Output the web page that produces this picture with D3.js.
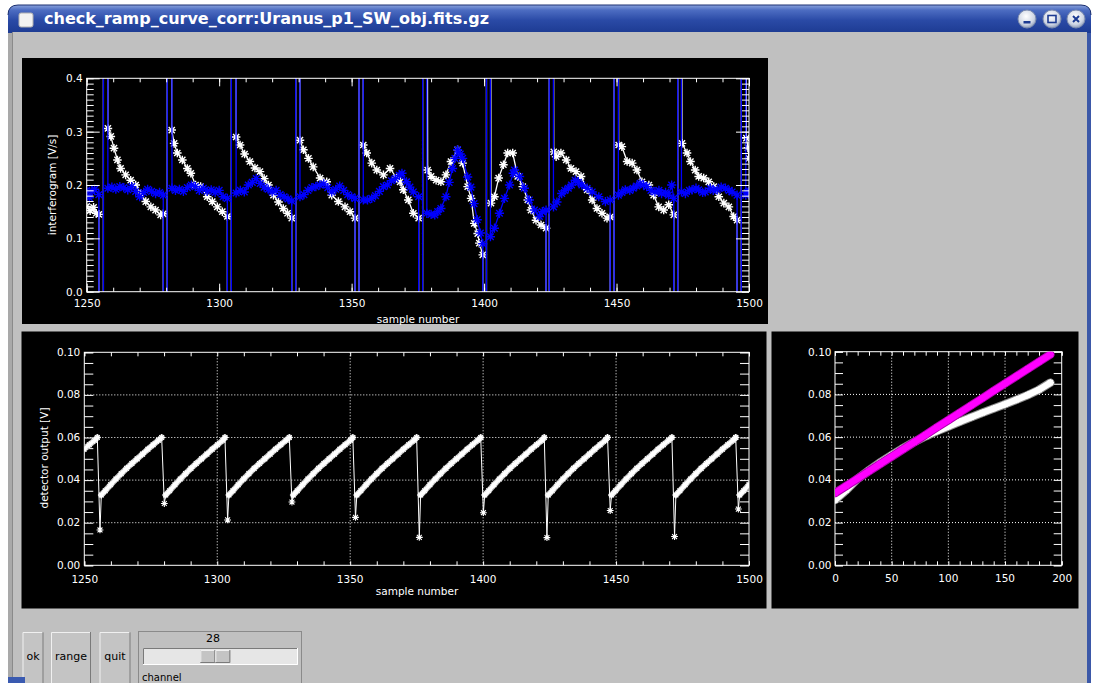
<!DOCTYPE html>
<html>
<head>
<meta charset="utf-8">
<script src="https://cdn.jsdelivr.net/npm/d3@7"></script>
<style>
  html, body { margin: 0; padding: 0; background: #fff; overflow: hidden; }
  svg { display: block; }
  text { font-family: "DejaVu Sans", sans-serif; }
</style>
</head>
<body>
<script>
// ---------------- datos ----------------
const titulo = "check_ramp_curve_corr:Uranus_p1_SW_obj.fits.gz";
const canal = 28;
const botones = ["ok", "range", "quit"];

// lecturas fuera de escala (saltos del reset)
const OFF_LO = -2, OFF_HI = 2;

// posiciones de los tres saltos en cada reset (sample number)
const resets = [
  [1254.6, 1256.3, 1257.8], [1278.9, 1280.4, 1281.9], [1303.1, 1304.6, 1306.2],
  [1327.4, 1328.9, 1330.3], [1351.3, 1352.8, 1354.2], [1375.3, 1376.8, 1378.1],
  [1399.5, 1400.9, 1402.2], [1423.4, 1424.6, 1425.9], [1447.6, 1449.1, 1450.5],
  [1471.6, 1473.1, 1474.3], [1495.5, 1497.1, 1498.6]
];

// interferograma sin corregir (blanco), un tramo entre resets
const blancoSeg = [
  [[1250,0.160],[1251.3,0.152],[1252.6,0.158],[1253.6,0.147],[1254.6,0.145]],
  [[1258.0,0.306],[1259.1,0.291],[1260.3,0.269],[1261.6,0.247],[1262.8,0.231],[1264.7,0.219],[1266.6,0.209],[1268.5,0.200],[1270.4,0.184],[1272.3,0.169],[1274.2,0.159],[1276.0,0.153],[1277.9,0.144],[1278.9,0.146]],
  [[1282.1,0.303],[1283.0,0.278],[1284.2,0.260],[1286.1,0.247],[1288.0,0.231],[1289.3,0.222],[1291.1,0.200],[1293.0,0.197],[1295.5,0.178],[1297.4,0.169],[1299.3,0.159],[1301.2,0.150],[1303.1,0.141]],
  [[1306.4,0.290],[1307.9,0.275],[1309.6,0.258],[1311.6,0.244],[1313.5,0.232],[1315.4,0.225],[1317.0,0.212],[1318.6,0.200],[1320.5,0.181],[1322.4,0.168],[1324.2,0.156],[1325.8,0.147],[1327.4,0.138]],
  [[1330.5,0.284],[1331.8,0.266],[1333.7,0.250],[1335.5,0.234],[1338.1,0.213],[1340.6,0.206],[1342.5,0.181],[1345.0,0.169],[1347.5,0.159],[1349.4,0.150],[1351.3,0.138]],
  [[1354.4,0.275],[1355.7,0.260],[1357.6,0.241],[1359.5,0.228],[1362.0,0.219],[1364.5,0.231],[1367.0,0.213],[1368.3,0.206],[1369.5,0.191],[1371.4,0.172],[1373.3,0.147],[1375.3,0.138]],
  [[1378.7,0.228],[1380.0,0.216],[1381.9,0.209],[1383.7,0.206],[1385.6,0.219],[1387.5,0.244],[1390.0,0.266],[1391.9,0.241],[1393.8,0.197],[1395.1,0.175],[1396.3,0.128],[1397.6,0.109],[1398.2,0.091],[1399.5,0.069]],
  [[1402.6,0.166],[1403.9,0.178],[1405.5,0.213],[1407.3,0.238],[1408.9,0.260],[1410.8,0.260],[1412.7,0.216],[1414.6,0.197],[1416.5,0.172],[1417.7,0.153],[1419.6,0.134],[1421.5,0.125],[1423.4,0.119]],
  [[1426.3,0.262],[1427.2,0.253],[1429.0,0.260],[1431.0,0.247],[1432.8,0.231],[1434.7,0.225],[1436.6,0.216],[1438.9,0.191],[1440.8,0.172],[1442.6,0.156],[1444.5,0.147],[1446.4,0.138],[1447.6,0.140]],
  [[1450.8,0.275],[1452.0,0.272],[1454.0,0.244],[1455.9,0.241],[1457.7,0.228],[1459.6,0.206],[1462.2,0.200],[1464.0,0.181],[1465.9,0.159],[1467.8,0.153],[1469.7,0.163],[1471.6,0.144]],
  [[1474.7,0.278],[1476.6,0.260],[1477.9,0.244],[1479.7,0.228],[1481.0,0.216],[1482.9,0.213],[1484.8,0.206],[1486.7,0.197],[1488.6,0.178],[1490.5,0.166],[1492.4,0.159],[1494.2,0.141],[1495.5,0.134]],
  [[1499.0,0.288],[1499.6,0.270],[1500.0,0.250]]
];

// interferograma corregido (azul)
const azulSeg = [
  [[1250,0.190],[1251,0.176],[1252,0.188],[1253,0.192],[1254.6,0.182]],
  [[1258.0,0.194],[1259.5,0.196],[1261,0.192],[1262.5,0.197],[1264,0.195],[1265.5,0.191],[1267,0.197],[1268.5,0.188],[1270,0.178],[1271.5,0.186],[1273,0.192],[1274.5,0.188],[1276,0.184],[1277.5,0.186],[1278.9,0.181]],
  [[1282.2,0.194],[1283.5,0.190],[1285,0.192],[1286.5,0.188],[1288,0.195],[1289.5,0.200],[1291,0.197],[1292.5,0.190],[1294,0.194],[1295.5,0.188],[1297,0.191],[1298.5,0.186],[1300,0.190],[1301.5,0.178],[1303.1,0.175]],
  [[1306.4,0.185],[1308,0.190],[1309.5,0.187],[1311,0.200],[1312.5,0.205],[1314,0.212],[1315.5,0.203],[1317,0.196],[1318.5,0.192],[1320,0.187],[1321.5,0.190],[1323,0.182],[1324.5,0.178],[1326,0.174],[1327.4,0.170]],
  [[1330.5,0.178],[1332,0.182],[1333.5,0.190],[1335,0.195],[1336.5,0.197],[1338,0.200],[1339.5,0.202],[1341,0.195],[1342.5,0.187],[1344,0.192],[1345.5,0.198],[1347,0.190],[1348.5,0.182],[1350,0.178],[1351.3,0.175]],
  [[1354.4,0.172],[1356,0.172],[1357.6,0.175],[1359,0.180],[1360.5,0.188],[1362,0.197],[1363.5,0.200],[1365,0.208],[1366.5,0.212],[1368,0.218],[1369,0.222],[1370.7,0.206],[1372,0.196],[1373.3,0.187],[1375.3,0.178]],
  [[1378.4,0.147],[1380,0.145],[1381.4,0.144],[1382.5,0.150],[1383.7,0.156],[1385.6,0.178],[1386.8,0.205],[1388.1,0.231],[1389,0.250],[1390,0.266],[1391,0.258],[1391.9,0.250],[1393.8,0.215],[1395,0.196],[1396.2,0.165],[1397.4,0.135],[1398.6,0.110],[1399.5,0.090]],
  [[1402.4,0.103],[1403.9,0.119],[1405.8,0.147],[1407.7,0.175],[1409.6,0.200],[1411,0.222],[1411.5,0.228],[1413.4,0.216],[1415.2,0.194],[1417.1,0.172],[1419,0.153],[1420.9,0.141],[1422,0.150],[1423.4,0.153]],
  [[1426.2,0.159],[1427.5,0.168],[1429.3,0.184],[1430.5,0.190],[1431.8,0.194],[1433,0.200],[1434.4,0.209],[1435.6,0.205],[1436.9,0.200],[1438.9,0.194],[1440.8,0.187],[1443.3,0.178],[1445.8,0.169],[1447.6,0.172]],
  [[1450.7,0.181],[1452,0.186],[1453.3,0.191],[1455,0.190],[1456.3,0.194],[1457.6,0.198],[1458.9,0.203],[1460.2,0.200],[1461.4,0.197],[1463,0.190],[1464.5,0.187],[1466,0.190],[1467,0.184],[1468.5,0.186],[1469.6,0.181],[1470.8,0.200],[1471.6,0.175]],
  [[1474.5,0.187],[1476,0.184],[1477.5,0.190],[1478.5,0.191],[1480,0.194],[1481,0.191],[1482.5,0.186],[1483.5,0.187],[1485.4,0.194],[1486.5,0.190],[1488,0.191],[1489.5,0.196],[1491.1,0.194],[1492.5,0.190],[1493.6,0.187],[1495.5,0.181]],
  [[1498.8,0.181],[1499.3,0.186],[1500,0.188]]
];

// salida del detector: rampas (V)
const rampaPrevia = 1230.9;              // caida anterior, fuera del grafico
const caidas = [1254.9, 1279.1, 1302.9, 1327.1, 1351.0, 1375.0, 1399.1, 1423.0, 1446.8, 1471.0, 1495.0];
const minimos = [0.0166, 0.0290, 0.0213, 0.0297, 0.0225, 0.0131, 0.0247, 0.0130, 0.0257, 0.0135, 0.0264];
const tope = 0.060;
const rampaT = [1.5, 3, 5, 7, 9, 11, 13, 15, 17, 19, 21, 23];
const rampaV = [0.0330, 0.0350, 0.0378, 0.0405, 0.0430, 0.0455, 0.0478, 0.0500, 0.0522, 0.0545, 0.0566, 0.0587];

// rampa de un canal: lectura vs indice
const indice = [0, 10, 20, 30, 40, 50, 60, 70, 80, 90, 100, 110, 120, 130, 140, 150, 160, 170, 180, 190];
const rampaCruda = [0.0305, 0.0352, 0.0405, 0.0445, 0.0482, 0.0516, 0.0548, 0.0578, 0.0604, 0.0628, 0.0650, 0.0672, 0.0693, 0.0714, 0.0734, 0.0754, 0.0775, 0.0797, 0.0822, 0.0855];
const rampaCorr = [0.0338, 0.0372, 0.0406, 0.0441, 0.0475, 0.0509, 0.0543, 0.0577, 0.0611, 0.0646, 0.0680, 0.0714, 0.0748, 0.0782, 0.0817, 0.0851, 0.0885, 0.0919, 0.0953, 0.0987];

// ---------------- lienzo ----------------
const W = 1099, H = 683;
const svg = d3.select("body").append("svg").attr("width", W).attr("height", H);
const defs = svg.append("defs");

// marco de la ventana
const gt = defs.append("linearGradient").attr("id", "gTit").attr("x1", 0).attr("y1", 0).attr("x2", 0).attr("y2", 1);
gt.append("stop").attr("offset", "0%").attr("stop-color", "#8aa2dc");
gt.append("stop").attr("offset", "18%").attr("stop-color", "#4d6dc2");
gt.append("stop").attr("offset", "55%").attr("stop-color", "#2a4aa6");
gt.append("stop").attr("offset", "100%").attr("stop-color", "#1d3b92");

const gb = defs.append("radialGradient").attr("id", "gBtn").attr("cx", "45%").attr("cy", "35%").attr("r", "65%");
gb.append("stop").attr("offset", "0%").attr("stop-color", "#ffffff");
gb.append("stop").attr("offset", "70%").attr("stop-color", "#cfd6e4");
gb.append("stop").attr("offset", "100%").attr("stop-color", "#8e9cb9");

svg.append("path")
  .attr("d", "M8,15 Q8,5 18,5 H1081 Q1091,5 1091,15 V683 H8 Z")
  .attr("fill", "#a9a9a9");
svg.append("path")
  .attr("d", "M8,15 Q8,5 18,5 H1081 Q1091,5 1091,15 V33 H8 Z")
  .attr("fill", "url(#gTit)");
svg.append("path")
  .attr("d", "M8,15 Q8,5 18,5 H1081 Q1091,5 1091,15")
  .attr("fill", "none").attr("stroke", "#1a2f70").attr("stroke-width", 1);
svg.append("rect").attr("x", 1087).attr("y", 33).attr("width", 4).attr("height", 650).attr("fill", "#3b58a8");
svg.append("rect").attr("x", 12).attr("y", 32).attr("width", 1075).attr("height", 651).attr("fill", "#c0c0c0");
svg.append("line").attr("x1", 12.5).attr("x2", 12.5).attr("y1", 32).attr("y2", 683).attr("stroke", "#8a8a8a");

// icono y titulo
svg.append("rect").attr("x", 19).attr("y", 13).attr("width", 14).attr("height", 14).attr("rx", 2)
  .attr("fill", "#f2f2f2").attr("stroke", "#b0b0b0");
svg.append("text").attr("x", 44).attr("y", 24).attr("fill", "#fff")
  .attr("font-size", 16).attr("font-weight", "bold").text(titulo);

// botones de la barra
[1027, 1052, 1076].forEach((cx, i) => {
  const g = svg.append("g").attr("transform", `translate(${cx},19)`);
  g.append("circle").attr("r", 9).attr("fill", "url(#gBtn)").attr("stroke", "#7d8cae");
  if (i === 0) g.append("rect").attr("x", -3.5).attr("y", 2).attr("width", 7).attr("height", 2.5).attr("fill", "#1d3b92");
  if (i === 1) g.append("rect").attr("x", -4).attr("y", -3.5).attr("width", 8).attr("height", 7)
    .attr("fill", "none").attr("stroke", "#1d3b92").attr("stroke-width", 1.6);
  if (i === 2) g.append("path").attr("d", "M-3,-3L3,3M-3,3L3,-3").attr("stroke", "#1d3b92").attr("stroke-width", 2);
});

// ---------------- utilidades ----------------
function estrella(r) {
  const d = r * 0.72;
  return `M${-r},0H${r}M0,${-r}V${r}M${-d},${-d}L${d},${d}M${-d},${d}L${d},${-d}`;
}

function rango(a, b, paso) {
  const out = [];
  for (let v = a; v <= b + paso / 1000; v += paso) out.push(+v.toFixed(6));
  return out;
}

let nClip = 0;
function panel(px, py, pw, ph, area) {
  svg.append("rect").attr("x", px).attr("y", py).attr("width", pw).attr("height", ph).attr("fill", "#000");
  const id = "clip" + (nClip++);
  defs.append("clipPath").attr("id", id).append("rect")
    .attr("x", area.x0).attr("y", area.y0).attr("width", area.x1 - area.x0).attr("height", area.y1 - area.y0);
  return id;
}

// ejes estilo IDL: marcas hacia dentro, en los cuatro lados
function ejes(x, y, o) {
  const g = svg.append("g").attr("class", "ejes");
  const [x0, x1] = x.range();
  const [y1, y0] = y.range();

  // rejilla punteada
  (o.gridX || []).forEach(v => {
    g.append("line").attr("x1", x(v)).attr("x2", x(v)).attr("y1", y0).attr("y2", y1)
      .attr("stroke", "#fff").attr("stroke-dasharray", "1,2");
  });
  (o.gridY || []).forEach(v => {
    g.append("line").attr("x1", x0).attr("x2", x1).attr("y1", y(v)).attr("y2", y(v))
      .attr("stroke", "#fff").attr("stroke-dasharray", "1,2");
  });

  const lados = [
    [d3.axisBottom, `translate(0,${y1})`, x, o.xMaj, o.lxMaj, o.xFmt, o.padX],
    [d3.axisTop, `translate(0,${y0})`, x, o.xMaj, o.lxMaj, null, 0],
    [d3.axisLeft, `translate(${x0},0)`, y, o.yMaj, o.lyMaj, o.yFmt, o.padY],
    [d3.axisRight, `translate(${x1},0)`, y, o.yMaj, o.lyMaj, null, 0]
  ];
  lados.forEach(([fn, tr, s, maj, len, fmt, pad]) => {
    g.append("g").attr("transform", tr)
      .call(fn(s).tickValues(maj).tickSize(-len).tickPadding(pad || 0).tickFormat(fmt ? fmt : ""));
  });
  const menores = [
    [d3.axisBottom, `translate(0,${y1})`, x, o.xMin, o.lxMin],
    [d3.axisTop, `translate(0,${y0})`, x, o.xMin, o.lxMin],
    [d3.axisLeft, `translate(${x0},0)`, y, o.yMin, o.lyMin],
    [d3.axisRight, `translate(${x1},0)`, y, o.yMin, o.lyMin]
  ];
  menores.forEach(([fn, tr, s, mins, len]) => {
    g.append("g").attr("transform", tr).call(fn(s).tickValues(mins).tickSize(-len).tickFormat(""));
  });
  g.selectAll(".domain").remove();
  g.selectAll(".tick line").attr("stroke", "#fff");
  g.selectAll(".tick text").attr("fill", "#fff").attr("font-size", 10.5)
    .attr("font-family", "'DejaVu Sans', sans-serif");
  g.append("rect").attr("x", x0).attr("y", y0).attr("width", x1 - x0).attr("height", y1 - y0)
    .attr("fill", "none").attr("stroke", "#fff");
  return g;
}

function etiqueta(tx, ty, txt, rot) {
  svg.append("text").attr("transform", `translate(${tx},${ty})` + (rot ? " rotate(-90)" : ""))
    .attr("text-anchor", "middle").attr("fill", "#fff").attr("font-size", 10.5).text(txt);
}

// ---------------- panel 1: interferograma ----------------
const a1 = { x0: 86.7, x1: 749, y0: 78.3, y1: 291.7 };
const c1 = panel(22, 58, 746, 266, a1);
const x1s = d3.scaleLinear().domain([1250, 1500]).range([a1.x0, a1.x1]);
const y1s = d3.scaleLinear().domain([0, 0.4]).range([a1.y1, a1.y0]);

function unir(segs) {
  let out = [];
  segs.forEach((s, i) => {
    out = out.concat(s);
    if (i < resets.length) {
      const r = resets[i];
      out.push([r[0], OFF_LO], [r[1], OFF_LO], [r[1], OFF_HI], [r[2], OFF_HI]);
    }
  });
  return out;
}
const serieBlanca = unir(blancoSeg);
const serieAzul = unir(azulSeg);
const linea1 = d3.line().x(d => x1s(d[0])).y(d => y1s(d[1]));

const gd1 = svg.append("g").attr("clip-path", `url(#${c1})`);
[[serieBlanca, "#ffffff", 4.3], [serieAzul, "#0000ff", 4.6]].forEach(([serie, col, r]) => {
  gd1.append("path").datum(serie).attr("d", linea1).attr("fill", "none")
    .attr("stroke", col).attr("stroke-width", 1.3);
  gd1.selectAll(null).data(serie.filter(d => d[1] > OFF_LO && d[1] < OFF_HI)).enter().append("path")
    .attr("transform", d => `translate(${x1s(d[0])},${y1s(d[1])})`)
    .attr("d", estrella(r)).attr("stroke", col).attr("stroke-width", 1.4).attr("fill", "none");
});

ejes(x1s, y1s, {
  xMaj: [1250, 1300, 1350, 1400, 1450, 1500], xMin: rango(1250, 1500, 10), lxMaj: 8, lxMin: 4,
  yMaj: [0, 0.1, 0.2, 0.3, 0.4], yMin: rango(0, 0.4, 0.01), lyMaj: 13, lyMin: 7,
  xFmt: d3.format("d"), yFmt: d3.format(".1f"), padX: 8, padY: 4
});
etiqueta(418, 322.5, "sample number");
etiqueta(56, 185, "interferogram [V/s]", true);

// ---------------- panel 2: salida del detector ----------------
const a2 = { x0: 84.3, x1: 749, y0: 352.3, y1: 565.3 };
const c2 = panel(21.5, 331.5, 745, 277, a2);
const x2s = d3.scaleLinear().domain([1250, 1500]).range([a2.x0, a2.x1]);
const y2s = d3.scaleLinear().domain([0, 0.10]).range([a2.y1, a2.y0]);

ejes(x2s, y2s, {
  xMaj: [1250, 1500], xMin: rango(1250, 1500, 10), lxMaj: 4, lxMin: 4,
  yMaj: [0, 0.1], yMin: rango(0, 0.1, 0.005), lyMaj: 9, lyMin: 9,
  gridX: [1300, 1350, 1400, 1450], gridY: [0.02, 0.04, 0.06, 0.08],
  xFmt: d3.format("d"), yFmt: d3.format(".2f"), padX: 10, padY: 4
});
// etiquetas de los ticks intermedios (solo rejilla)
[1300, 1350, 1400, 1450].forEach(v => {
  svg.append("text").attr("x", x2s(v)).attr("y", a2.y1 + 10).attr("dy", "0.71em")
    .attr("text-anchor", "middle").attr("fill", "#fff").attr("font-size", 10.5).text(v);
});
[0.02, 0.04, 0.06, 0.08].forEach(v => {
  svg.append("text").attr("x", a2.x0 - 4).attr("y", y2s(v)).attr("dy", "0.32em")
    .attr("text-anchor", "end").attr("fill", "#fff").attr("font-size", 10.5).text(v.toFixed(2));
});

// construir la serie del detector a partir de las caidas
const inicios = [rampaPrevia].concat(caidas);
let detector = [];
const rampas = [];
inicios.forEach((d, k) => {
  if (k > 0) detector.push([d, tope], [d + 1.0, minimos[k - 1]]);
  const fin = k + 1 < inicios.length ? inicios[k + 1] : 1510;
  const tramo = [];
  rampaT.forEach((t, j) => { if (d + t < fin - 0.3) tramo.push([d + t, rampaV[j]]); });
  if (k + 1 < inicios.length) tramo.push([fin, tope]);
  detector = detector.concat(tramo.slice(0, tramo.length - (k + 1 < inicios.length ? 1 : 0)));
  rampas.push(tramo);
});
detector.push([caidas[caidas.length - 1], tope]);
detector.sort((a, b) => a[0] - b[0]);

const linea2 = d3.line().x(d => x2s(d[0])).y(d => y2s(d[1]));
const gd2 = svg.append("g").attr("clip-path", `url(#${c2})`);
gd2.selectAll(null).data(rampas).enter().append("path")
  .attr("d", linea2).attr("fill", "none").attr("stroke", "#bdbdbd").attr("stroke-width", 6)
  .attr("stroke-linecap", "round");
gd2.selectAll(null).data(rampas).enter().append("path")
  .attr("d", linea2).attr("fill", "none").attr("stroke", "#fff").attr("stroke-width", 3.6)
  .attr("stroke-linecap", "round");
gd2.append("path").datum(detector).attr("d", linea2).attr("fill", "none").attr("stroke", "#fff").attr("stroke-width", 1);
gd2.selectAll(null).data(detector).enter().append("path")
  .attr("transform", d => `translate(${x2s(d[0])},${y2s(d[1])})`)
  .attr("d", estrella(3.4)).attr("stroke", "#fff").attr("stroke-width", 1.1).attr("fill", "none");

etiqueta(417, 595, "sample number");
etiqueta(48, 458, "detector output [V]", true);

// ---------------- panel 3: rampa cruda vs corregida ----------------
const a3 = { x0: 835, x1: 1061.7, y0: 351.7, y1: 565.3 };
const c3 = panel(771.5, 331.5, 307, 277, a3);
const x3s = d3.scaleLinear().domain([0, 200]).range([a3.x0, a3.x1]);
const y3s = d3.scaleLinear().domain([0, 0.10]).range([a3.y1, a3.y0]);

ejes(x3s, y3s, {
  xMaj: [0, 200], xMin: rango(0, 200, 10), lxMaj: 4, lxMin: 4,
  yMaj: [0, 0.1], yMin: rango(0, 0.1, 0.005), lyMaj: 8, lyMin: 8,
  gridX: [50, 100, 150], gridY: [0.02, 0.04, 0.06, 0.08],
  xFmt: d3.format("d"), yFmt: d3.format(".2f"), padX: 9.5, padY: 3.5
});
[50, 100, 150].forEach(v => {
  svg.append("text").attr("x", x3s(v)).attr("y", a3.y1 + 9.5).attr("dy", "0.71em")
    .attr("text-anchor", "middle").attr("fill", "#fff").attr("font-size", 10.5).text(v);
});
[0.02, 0.04, 0.06, 0.08].forEach(v => {
  svg.append("text").attr("x", a3.x0 - 3.5).attr("y", y3s(v)).attr("dy", "0.32em")
    .attr("text-anchor", "end").attr("fill", "#fff").attr("font-size", 10.5).text(v.toFixed(2));
});

const linea3 = d3.line().x(d => x3s(d[0])).y(d => y3s(d[1]));
const gd3 = svg.append("g").attr("clip-path", `url(#${c3})`);
[[rampaCruda, "#ffffff", "#8c8c8c"], [rampaCorr, "#ff00ff", "#b000b0"]].forEach(([vals, col, borde]) => {
  const pts = indice.map((v, i) => [v, vals[i]]);
  gd3.append("path").datum(pts).attr("d", linea3).attr("fill", "none")
    .attr("stroke", borde).attr("stroke-width", 8.5).attr("stroke-linecap", "round");
  gd3.append("path").datum(pts).attr("d", linea3).attr("fill", "none")
    .attr("stroke", col).attr("stroke-width", 6.5).attr("stroke-linecap", "round");
  gd3.selectAll(null).data(pts).enter().append("path")
    .attr("transform", d => `translate(${x3s(d[0])},${y3s(d[1])})`)
    .attr("d", estrella(3.5)).attr("stroke", col).attr("stroke-width", 1.2).attr("fill", "none");
});

// ---------------- controles inferiores ----------------
function bisel(x, y, w, h, hundido) {
  svg.append("rect").attr("x", x).attr("y", y).attr("width", w).attr("height", h).attr("fill", hundido ? "#e6e6e6" : "#c4c4c4");
  svg.append("path").attr("d", `M${x + 0.5},${y + h}V${y + 0.5}H${x + w}`).attr("fill", "none")
    .attr("stroke", hundido ? "#7a7a7a" : "#f0f0f0");
  svg.append("path").attr("d", `M${x + w - 0.5},${y}V${y + h - 0.5}H${x}`).attr("fill", "none")
    .attr("stroke", hundido ? "#ffffff" : "#7a7a7a");
}
const bx = [[22.5, 21], [51, 40], [99.5, 31]];
botones.forEach((b, i) => {
  bisel(bx[i][0], 632, bx[i][1], 60, false);
  svg.append("text").attr("x", bx[i][0] + bx[i][1] / 2).attr("y", 660).attr("text-anchor", "middle")
    .attr("font-size", 11).attr("fill", "#000").text(b);
});

// deslizador del canal
svg.append("rect").attr("x", 138.5).attr("y", 631.5).attr("width", 163).attr("height", 60)
  .attr("fill", "#c0c0c0").attr("stroke", "#8a8a8a");
svg.append("text").attr("x", 213).attr("y", 642).attr("text-anchor", "middle").attr("font-size", 11).attr("fill", "#000").text(canal);
bisel(143, 648, 155, 17, true);
const xs = d3.scaleLinear().domain([0, 60]).range([150, 290]);
bisel(xs(canal) - 15, 650, 15, 13, false);
bisel(xs(canal), 650, 15, 13, false);
svg.append("text").attr("x", 142).attr("y", 681).attr("font-family", "'DejaVu Sans Mono', monospace")
  .attr("font-size", 10).attr("fill", "#000").text("channel");

// esquina inferior del marco
svg.append("rect").attr("x", 8).attr("y", 677).attr("width", 17).attr("height", 6).attr("fill", "#3a5ab0");
</script>
</body>
</html>
